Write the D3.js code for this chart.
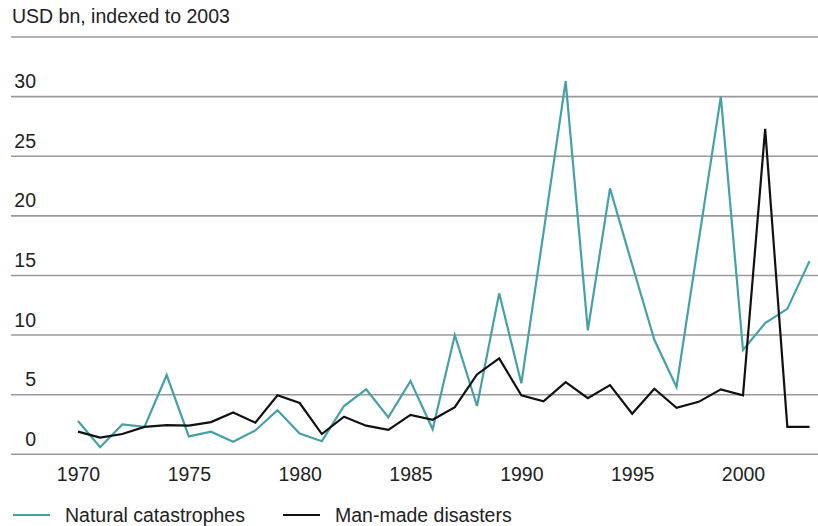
<!DOCTYPE html>
<html lang="en">
<head>
    <meta charset="UTF-8">
    <title>Insured losses</title>
    <style>
        body {
            margin: 0;
            background: #fff;
            font-family: "Liberation Sans", Arial, sans-serif;
        }
    </style>
</head>
<body>
    <div id="chart"></div>
    <script src="https://d3js.org/d3.v7.min.js"></script>
    <script>
        // values, USD bn indexed to 2003
        const years = d3.range(1970, 2004);
        const natural = [2.8, 0.6, 2.5, 2.3, 6.65, 1.5, 1.9, 1.05, 2.0, 3.7,
                         1.75, 1.1, 4.05, 5.45, 3.1, 6.15, 2.1, 10.0, 4.05, 13.5,
                         5.95, 18.6, 31.3, 10.4, 22.3, 15.9, 9.6, 5.65, 17.9, 30.0,
                         8.75, 11.0, 12.2, 16.2];
        const manMade = [1.9, 1.4, 1.7, 2.3, 2.45, 2.4, 2.7, 3.5, 2.65, 4.95,
                         4.3, 1.7, 3.15, 2.4, 2.05, 3.3, 2.9, 3.95, 6.7, 8.05,
                         4.95, 4.45, 6.05, 4.7, 5.8, 3.4, 5.5, 3.9, 4.4, 5.45,
                         4.95, 27.3, 2.3, 2.3];
        const yTicks = [0, 5, 10, 15, 20, 25, 30, 35];
        const yLabels = [0, 5, 10, 15, 20, 25, 30];
        const xTicks = [1970, 1975, 1980, 1985, 1990, 1995, 2000];
        const series = [
            {name: "Natural catastrophes", values: natural, color: "#45a1a7"},
            {name: "Man-made disasters", values: manMade, color: "#111111"}
        ];

        const width = 818, height = 526;
        const fontSize = "19.5px";

        const svg = d3.select("#chart")
            .append("svg")
            .attr("width", width)
            .attr("height", height);

        const x = d3.scaleLinear().domain([1970, 2003]).range([78, 809.5]);
        const y = d3.scaleLinear().domain([0, 35]).range([454.3, 37]);

        // gridlines
        svg.append("g")
            .selectAll("line")
            .data(yTicks)
            .enter()
            .append("line")
            .attr("x1", 11)
            .attr("x2", width)
            .attr("y1", d => y(d))
            .attr("y2", d => y(d))
            .attr("stroke", "#9a9a9a")
            .attr("stroke-width", 1.6);

        // y labels sit above their line
        svg.append("g")
            .selectAll("text")
            .data(yLabels)
            .enter()
            .append("text")
            .attr("x", 36)
            .attr("y", d => y(d) - 8.5)
            .attr("text-anchor", "end")
            .style("font-size", fontSize)
            .style("fill", "#222")
            .text(d => d);

        // x axis labels
        const xAxis = d3.axisBottom(x)
            .tickValues(xTicks)
            .tickFormat(d3.format("d"))
            .tickSize(0)
            .tickPadding(0);

        const gx = svg.append("g")
            .attr("transform", `translate(0,${y(0)})`)
            .call(xAxis);
        gx.select(".domain").remove();
        gx.selectAll("text")
            .attr("dy", null)
            .attr("y", 26.5)
            .style("font-family", "'Liberation Sans', Arial, sans-serif")
            .style("font-size", fontSize)
            .style("fill", "#222");

        // title
        svg.append("text")
            .attr("x", 12)
            .attr("y", 23)
            .style("font-size", fontSize)
            .style("fill", "#222")
            .text("USD bn, indexed to 2003");

        // lines
        const line = d3.line()
            .x((d, i) => x(years[i]))
            .y(d => y(d));

        svg.selectAll(".series")
            .data(series)
            .enter()
            .append("path")
            .attr("class", "series")
            .attr("d", d => line(d.values))
            .attr("fill", "none")
            .attr("stroke", d => d.color)
            .attr("stroke-width", 2.2)
            .attr("stroke-linejoin", "miter");

        // legend
        const legendX = [13, 283];
        const legend = svg.selectAll(".legend")
            .data(series)
            .enter()
            .append("g")
            .attr("class", "legend")
            .attr("transform", (d, i) => `translate(${legendX[i]},0)`);

        legend.append("line")
            .attr("x1", 0)
            .attr("x2", 37)
            .attr("y1", 515)
            .attr("y2", 515)
            .attr("stroke", d => d.color)
            .attr("stroke-width", 2.2);

        legend.append("text")
            .attr("x", 52)
            .attr("y", 522)
            .style("font-size", fontSize)
            .style("fill", "#222")
            .text(d => d.name);
    </script>
</body>
</html>
